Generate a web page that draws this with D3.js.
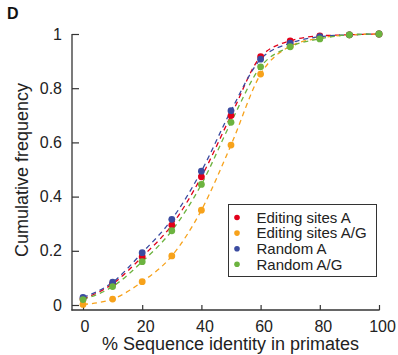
<!DOCTYPE html>
<html>
<head>
<meta charset="utf-8">
<script src="https://cdn.jsdelivr.net/npm/d3@7"></script>
<style>
  html, body { margin: 0; padding: 0; background: #fff; }
  svg { display: block; font-family: "Liberation Sans", Arial, sans-serif; }
</style>
</head>
<body>
<svg id="chart" width="398" height="355"></svg>
<script>
// ---- data ----
const identity = [0, 10, 20, 30, 40, 50, 60, 70, 80, 90, 100];
const editingA  = [0.022, 0.078, 0.178, 0.295, 0.473, 0.699, 0.916, 0.975, 0.993, 0.997, 1.0];
const editingAG = [0.002, 0.022, 0.086, 0.181, 0.350, 0.590, 0.852, 0.955, 0.985, 0.997, 1.0];
const randomA   = [0.028, 0.084, 0.193, 0.316, 0.494, 0.717, 0.907, 0.966, 0.990, 0.997, 1.0];
const randomAG  = [0.020, 0.068, 0.160, 0.274, 0.445, 0.674, 0.879, 0.953, 0.982, 0.997, 1.0];
const seriesNames = ["Editing sites A", "Editing sites A/G", "Random A", "Random A/G"];
const xTicks = [0, 20, 40, 60, 80, 100];
const yTicks = [0, 0.2, 0.4, 0.6, 0.8, 1];

const colors = ["#e2001a", "#f7a21b", "#3b4ba0", "#6cb33f"];
const seriesValues = [editingA, editingAG, randomA, randomAG];
const series = seriesNames.map((name, i) => ({
  name, color: colors[i],
  points: identity.map((x, j) => ({ x, y: seriesValues[i][j] }))
}));

const svg = d3.select("#chart");
const x = d3.scaleLinear().domain([0, 100]).range([83, 379]);
const y = d3.scaleLinear().domain([0, 1]).range([305, 34]);
const axisColor = "#333";
const textColor = "#222";

// panel label
svg.append("text").attr("x", 7).attr("y", 19)
  .attr("font-size", 16).attr("font-weight", "bold").attr("fill", "#111").text("D");

// y axis
const yAxis = svg.append("g").attr("transform", "translate(72,0)")
  .call(d3.axisLeft(y).tickValues(yTicks).tickSize(-7).tickSizeOuter(0).tickPadding(10)
    .tickFormat(d => d3.format("~g")(d)));
yAxis.select(".domain").remove();
yAxis.selectAll(".tick line").attr("stroke", axisColor).attr("stroke-width", 1.2);
yAxis.selectAll("text").attr("font-size", 16).attr("fill", textColor).attr("font-family", "Liberation Sans, Arial, sans-serif");
svg.append("line").attr("x1", 72).attr("x2", 72).attr("y1", 34).attr("y2", 310.6)
  .attr("stroke", axisColor).attr("stroke-width", 1.3);

// x axis
const xAxis = svg.append("g").attr("transform", "translate(0,310)")
  .call(d3.axisBottom(x).tickValues(xTicks).tickSize(-5).tickSizeOuter(0).tickPadding(10.5));
xAxis.select(".domain").remove();
xAxis.selectAll(".tick line").attr("stroke", axisColor).attr("stroke-width", 1.2);
xAxis.selectAll("text").attr("font-size", 16).attr("fill", textColor).attr("dx", d => d === 0 ? 1.5 : 3)
  .attr("font-family", "Liberation Sans, Arial, sans-serif");
svg.append("line").attr("x1", 71.4).attr("x2", 379.6).attr("y1", 310).attr("y2", 310)
  .attr("stroke", axisColor).attr("stroke-width", 1.3);

// axis titles
svg.append("text").attr("x", 230.5).attr("y", 350).attr("text-anchor", "middle")
  .attr("font-size", 18).attr("fill", textColor).text("% Sequence identity in primates");
svg.append("text").attr("transform", "translate(28,170) rotate(-90)").attr("text-anchor", "middle")
  .attr("font-size", 18).attr("fill", textColor).text("Cumulative frequency");

// lines
const line = d3.line().x(d => x(d.x)).y(d => y(d.y)).curve(d3.curveMonotoneX);
svg.append("g").selectAll("path").data(series).join("path")
  .attr("d", d => line(d.points))
  .attr("fill", "none").attr("stroke", d => d.color)
  .attr("stroke-width", 1.3).attr("stroke-dasharray", "5,4");

// points
series.forEach(s => {
  svg.append("g").selectAll("circle").data(s.points).join("circle")
    .attr("cx", d => x(d.x)).attr("cy", d => y(d.y)).attr("r", 3.4)
    .attr("fill", s.color);
});

// legend
const lg = svg.append("g");
lg.append("rect").attr("x", 228.5).attr("y", 204.5).attr("width", 148).attr("height", 72)
  .attr("fill", "#fff").attr("stroke", "#333").attr("stroke-width", 1);
series.forEach((s, i) => {
  const cy = 217.5 + i * 15.6;
  lg.append("circle").attr("cx", 237).attr("cy", cy).attr("r", 2.8).attr("fill", s.color);
  lg.append("text").attr("x", 256.5).attr("y", cy).attr("dy", "0.35em")
    .attr("font-size", 15).attr("fill", textColor).text(s.name);
});
</script>
</body>
</html>
